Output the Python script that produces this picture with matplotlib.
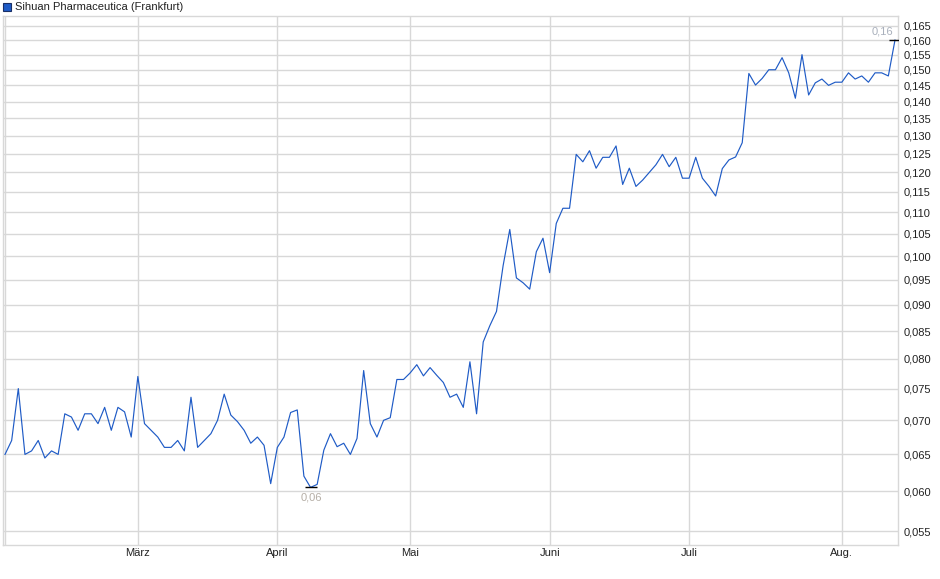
import numpy as np
import matplotlib
matplotlib.use("Agg")
import matplotlib.pyplot as plt
from matplotlib.ticker import FuncFormatter, NullLocator, FixedLocator
from matplotlib.patches import Rectangle

plt.rcParams['font.family'] = ['Liberation Sans', 'DejaVu Sans']

# daily closing prices (EUR), one value per trading day
prices = [
    0.065, 0.067, 0.075, 0.065, 0.0655, 0.067, 0.0645, 0.0655, 0.065, 0.071,
    0.0705, 0.0685, 0.071, 0.071, 0.0695, 0.072, 0.0685, 0.072, 0.0713, 0.0675,
    0.077, 0.0695, 0.0685, 0.0675, 0.066, 0.066, 0.067, 0.0655, 0.0736, 0.066,
    0.067, 0.068, 0.070, 0.0741, 0.0708, 0.0698, 0.0685, 0.0666, 0.0675, 0.0663,
    0.061, 0.066, 0.0675, 0.0712, 0.0716, 0.062, 0.0605, 0.0609, 0.0656, 0.068,
    0.0661, 0.0666, 0.065, 0.0673, 0.078, 0.0695, 0.0675, 0.070, 0.0704, 0.0765,
    0.0765, 0.0776, 0.079, 0.0771, 0.0785, 0.0772, 0.076, 0.0736, 0.0741, 0.072,
    0.0795, 0.071, 0.083, 0.086, 0.0887, 0.098, 0.106, 0.0954, 0.0944, 0.0931,
    0.101, 0.104, 0.0965, 0.1074, 0.111, 0.111, 0.1248, 0.1228, 0.1258, 0.1211,
    0.124, 0.124, 0.1271, 0.1169, 0.1211, 0.1164, 0.118, 0.120, 0.122, 0.1248,
    0.1215, 0.124, 0.1185, 0.1185, 0.124, 0.1185, 0.1164, 0.114, 0.121, 0.1233,
    0.1241, 0.128, 0.1488, 0.1451, 0.1472, 0.150, 0.150, 0.154, 0.149, 0.141,
    0.155, 0.142, 0.1458, 0.147, 0.145, 0.146, 0.146, 0.149, 0.147, 0.148,
    0.146, 0.149, 0.149, 0.148, 0.160,
]
month_pos = [20, 41, 61, 82, 103, 126]
month_labels = ['März', 'April', 'Mai', 'Juni', 'Juli', 'Aug.']
y_ticks = [0.055 + 0.005 * i for i in range(23)]
series_name = 'Sihuan Pharmaceutica (Frankfurt)'

def de(v, nd):
    # german decimal comma
    return ('%.*f' % (nd, v)).replace('.', ',')

W, H = 940, 579
fig = plt.figure(figsize=(W / 100, H / 100), dpi=100)
ax = fig.add_axes([2.7 / W, 1 - 545 / H, (898.3 - 2.7) / W, (545 - 16) / H])

x = np.arange(len(prices))
ax.plot(x, prices, color='#1f5bc6', lw=0.85, zorder=3)

ax.set_yscale('log')
ax.set_ylim(0.05338, 0.1686)
ax.set_xlim(-0.35, 134.5)

ax.yaxis.set_major_locator(FixedLocator(y_ticks))
ax.yaxis.set_minor_locator(NullLocator())
ax.yaxis.set_major_formatter(FuncFormatter(lambda v, p: de(v, 3)))
ax.yaxis.tick_right()
ax.set_xticks([0] + month_pos)
ax.set_xticklabels([''] + month_labels)
ax.tick_params(axis='both', length=0, labelsize=8, colors='#222222')
ax.tick_params(axis='y', pad=4)
ax.tick_params(axis='x', pad=2)

ax.grid(True, color='#d8d8d8', lw=1.0, zorder=0)
for s in ax.spines.values():
    s.set_color('#d8d8d8')
    s.set_linewidth(1.0)

# min / max markers
i_min = int(np.argmin(prices))
i_max = int(np.argmax(prices))
for i in (i_min, i_max):
    ax.plot(i, prices[i], marker='_', ms=8, mew=1.0, color='black', zorder=4)
ax.annotate(de(prices[i_min], 2), (i_min, prices[i_min]), xytext=(1, -10),
            textcoords='offset pixels', ha='center', va='center',
            fontsize=8, color='#b5aea6')
ax.annotate(de(prices[i_max], 2), (i_max, prices[i_max]), xytext=(-13, 9),
            textcoords='offset pixels', ha='center', va='center',
            fontsize=8, color='#a9b0bc')

# legend
fig.patches.append(Rectangle((3 / W, 1 - 10.5 / H), 7.5 / W, 7.5 / H,
                             transform=fig.transFigure, facecolor='#1f5bc6',
                             edgecolor='#1a2f66', lw=0.8))
fig.text(15 / W, 1 - 6.5 / H, series_name, fontsize=8, color='#222222',
         ha='left', va='center')

fig.savefig('out.png', dpi=100)
